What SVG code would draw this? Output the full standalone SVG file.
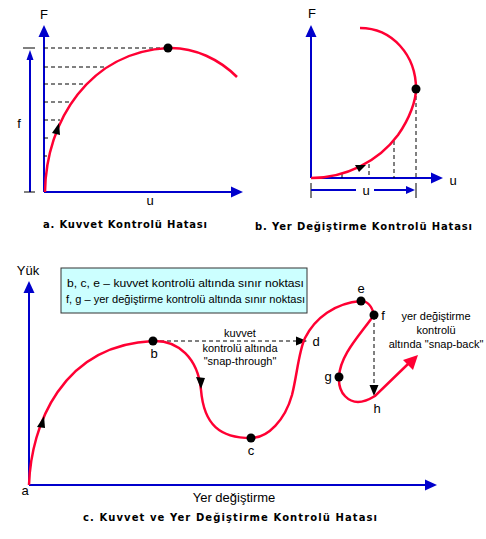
<svg xmlns="http://www.w3.org/2000/svg" width="486" height="539" viewBox="0 0 486 539">
<style>
.ax{stroke:#0000cc;stroke-width:2;fill:none}
.axh{fill:#0000cc}
.crv{stroke:#ff0033;stroke-width:2.5;fill:none}
.dash{stroke:#000;stroke-width:1;stroke-dasharray:4,3;fill:none}
.tk{stroke:#000;stroke-width:1;fill:none}
.dot{fill:#000}
.ah{fill:#000}
.lbl{font-family:"Liberation Sans",Arial,sans-serif;font-size:13px;fill:#000}
.sm{font-family:"Liberation Sans",Arial,sans-serif;font-size:11px;fill:#000}
.cap{font-family:"DejaVu Sans",Verdana,sans-serif;font-size:10px;font-weight:bold;fill:#000}
</style>
<rect width="486" height="539" fill="#fff"/>
<g id="panel-a">
  <line class="ax" x1="44" y1="192" x2="44" y2="35"/>
  <polygon class="axh" points="44,25 38.5,37 49.5,37"/>
  <line class="ax" x1="44" y1="192" x2="233" y2="192"/>
  <polygon class="axh" points="243,192 231,186.5 231,197.5"/>
  <line class="ax" x1="30" y1="192" x2="30" y2="58"/>
  <polygon class="axh" points="30,50 26.5,60 33.5,60"/>
  <line class="tk" x1="24" y1="192" x2="35" y2="192"/>
  <line class="tk" x1="23" y1="48" x2="35" y2="48"/>
  <line class="dash" x1="44" y1="48" x2="166" y2="48"/>
  <line class="dash" x1="44" y1="67" x2="107" y2="67"/>
  <line class="dash" x1="44" y1="84" x2="84" y2="84"/>
  <line class="dash" x1="44" y1="102" x2="72" y2="102"/>
  <line class="dash" x1="44" y1="120" x2="60" y2="120"/>
  <line class="dash" x1="44" y1="138" x2="51" y2="138"/>
  <line class="dash" x1="44" y1="156" x2="47" y2="156"/>
  <path class="crv" d="M45,192 C46,120 90,52 168,48 C195,47 220,60 237,77"/>
  <polygon class="ah" points="59,123 52,133 60,135"/>
  <circle class="dot" cx="168" cy="48" r="4.5"/>
  <text class="lbl" x="44" y="19" text-anchor="middle" font-size="14">F</text>
  <text class="lbl" x="150" y="205" text-anchor="middle" font-size="14">u</text>
  <text class="lbl" x="19" y="128" text-anchor="middle" font-size="14">f</text>
  <text class="cap" x="43" y="228" textLength="164" lengthAdjust="spacing">a. Kuvvet Kontrolü Hatası</text>
</g>
<g id="panel-b">
  <line class="ax" x1="311" y1="178" x2="311" y2="35"/>
  <polygon class="axh" points="311,25 305.5,37 316.5,37"/>
  <line class="ax" x1="311" y1="178" x2="433" y2="178"/>
  <polygon class="axh" points="443,178 431,172.5 431,183.5"/>
  <line class="dash" x1="369" y1="164" x2="369" y2="178"/>
  <line class="dash" x1="394" y1="141" x2="394" y2="178"/>
  <line class="dash" x1="416" y1="89" x2="416" y2="178"/>
  <line class="tk" x1="342" y1="174" x2="342" y2="178"/>
  <line class="tk" x1="311" y1="183" x2="311" y2="198"/>
  <line class="tk" x1="416" y1="183" x2="416" y2="198"/>
  <line class="ax" x1="311" y1="190" x2="356" y2="190" stroke-width="1.5"/>
  <line class="ax" x1="374" y1="190" x2="406" y2="190" stroke-width="1.5"/>
  <polygon class="axh" points="415,190 406,186 406,194"/>
  <path class="crv" d="M311,178 C345,178 378,162 398,135 C410,118 416,100 416,89 C416,55 392,28 360,28"/>
  <polygon class="ah" points="366,165 355,165 359,172"/>
  <circle class="dot" cx="416" cy="89" r="4.5"/>
  <text class="lbl" x="312" y="18" text-anchor="middle" font-size="14">F</text>
  <text class="lbl" x="453" y="185" text-anchor="middle" font-size="14">u</text>
  <text class="lbl" x="366" y="195" text-anchor="middle" font-size="14">u</text>
  <text class="cap" x="255" y="230" textLength="217" lengthAdjust="spacing">b. Yer Değiştirme Kontrolü Hatası</text>
</g>
<g id="panel-c">
  <g id="axes-c">
    <line class="ax" x1="29" y1="485" x2="29" y2="290"/>
    <polygon class="axh" points="29,281 23.5,293 34.5,293"/>
    <line class="ax" x1="29" y1="485" x2="427" y2="485"/>
    <polygon class="axh" points="437,485 425,479.5 425,490.5"/>
    <text class="lbl" x="28" y="275" text-anchor="middle">Yük</text>
    <text class="lbl" x="25" y="495" text-anchor="middle">a</text>
    <text class="lbl" x="234" y="502" text-anchor="middle" font-size="15">Yer değiştirme</text>
  </g>
  <g id="legend">
    <rect x="61" y="268" width="246" height="45" fill="#ccffff" stroke="#333" stroke-width="1"/>
    <text class="sm" x="67" y="287" textLength="237" lengthAdjust="spacingAndGlyphs">b, c, e – kuvvet kontrolü altında sınır noktası</text>
    <text class="sm" x="66" y="303" textLength="239" lengthAdjust="spacingAndGlyphs">f, g – yer değiştirme kontrolü altında sınır noktası</text>
  </g>
  <g id="connectors">
    <line class="dash" x1="153" y1="341" x2="298" y2="341"/>
    <polygon class="ah" points="307,341 296,336.5 296,345.5"/>
    <line class="dash" x1="374" y1="316" x2="374" y2="386"/>
    <polygon class="ah" points="374,396 369.5,385 378.5,385"/>
  </g>
  <path class="crv" d="M29,485 C31,425 62,345 153,341 C178,340 198,358 201,390 C204,425 220,438 251,438 C268,438 285,420 292,395 C297,375 299,350 305,338 C315,318 335,303 361,301 C367,301 372,306 374,315 C360,335 340,355 339,377 C338,395 350,402 358,402 C365,402 370,399 375,396 L408,364"/>
  <polygon fill="#ff0033" points="418,355 403,360 413,370"/>
  <polygon class="ah" points="44,416 37,427 45,428"/>
  <polygon class="ah" points="201,389 196,377 205,378"/>
  <g id="node-b"><circle class="dot" cx="153" cy="341" r="4.5"/><text class="lbl" x="154" y="358" text-anchor="middle">b</text></g>
  <g id="node-c"><circle class="dot" cx="251" cy="438" r="4.5"/><text class="lbl" x="251" y="455" text-anchor="middle">c</text></g>
  <g id="node-d"><text class="lbl" x="316" y="346" text-anchor="middle">d</text></g>
  <g id="node-e"><circle class="dot" cx="361" cy="301" r="4.5"/><text class="lbl" x="361" y="293" text-anchor="middle">e</text></g>
  <g id="node-f"><circle class="dot" cx="374" cy="315" r="4.5"/><text class="lbl" x="383" y="320" text-anchor="middle">f</text></g>
  <g id="node-g"><circle class="dot" cx="339" cy="377" r="4.5"/><text class="lbl" x="328" y="381" text-anchor="middle">g</text></g>
  <g id="node-h"><text class="lbl" x="377" y="413" text-anchor="middle">h</text></g>
  <g id="note-snap-through">
    <text class="sm" x="240" y="337" text-anchor="middle">kuvvet</text>
    <text class="sm" x="240" y="352" text-anchor="middle">kontrolü altında</text>
    <text class="sm" x="240" y="365" text-anchor="middle">"snap-through"</text>
  </g>
  <g id="note-snap-back">
    <text class="sm" x="436" y="320" text-anchor="middle">yer değiştirme</text>
    <text class="sm" x="436" y="334" text-anchor="middle">kontrolü</text>
    <text class="sm" x="436" y="348" text-anchor="middle">altında "snap-back"</text>
  </g>
  <text class="cap" x="83" y="521" textLength="294" lengthAdjust="spacing">c. Kuvvet ve Yer Değiştirme Kontrolü Hatası</text>
</g>
</svg>
